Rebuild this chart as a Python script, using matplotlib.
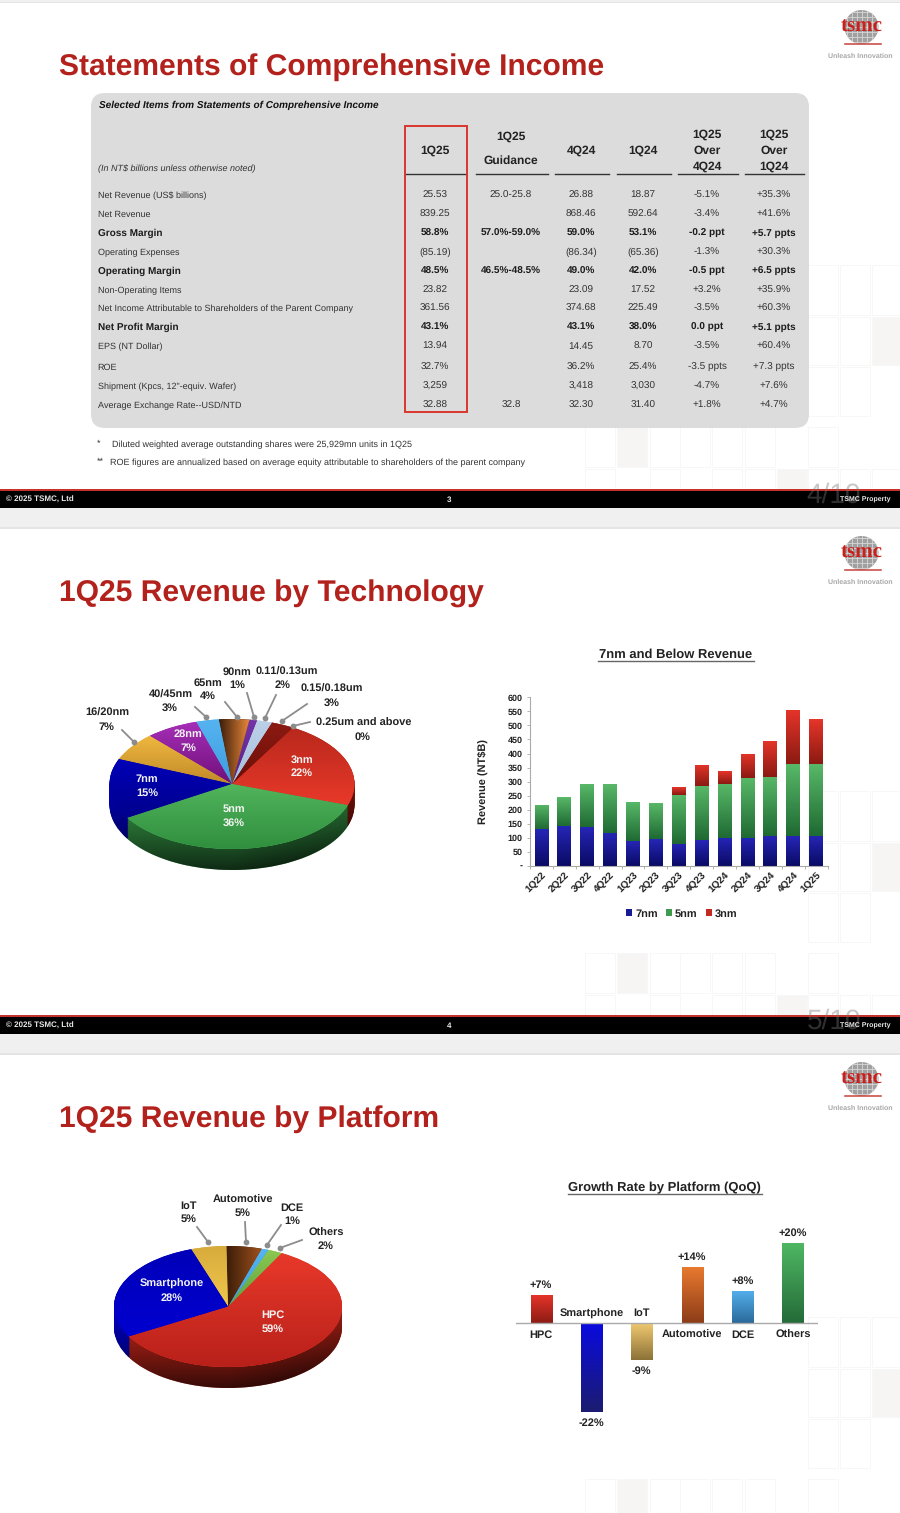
import numpy as np
import matplotlib
matplotlib.use("Agg")
import matplotlib.pyplot as plt
from matplotlib.colors import LinearSegmentedColormap
from matplotlib.patches import Rectangle, FancyBboxPatch, Circle, Polygon

plt.rcParams['font.family'] = ['Liberation Sans', 'DejaVu Sans']
plt.rcParams['text.hinting'] = 'no_hinting'
plt.rcParams['text.hinting_factor'] = 1

# ---------- data ----------
rows = ["Net Revenue (US$ billions)", "Net Revenue", "Gross Margin", "Operating Expenses", "Operating Margin",
        "Non-Operating Items", "Net Income Attributable to Shareholders of the Parent Company", "Net Profit Margin",
        "EPS (NT Dollar)", "ROE", "Shipment (Kpcs, 12\"-equiv. Wafer)", "Average Exchange Rate--USD/NTD"]
bold_rows = [2, 4, 7]
col_1q25 = ["25.53", "839.25", "58.8%", "(85.19)", "48.5%", "23.82", "361.56", "43.1%", "13.94", "32.7%", "3,259", "32.88"]
col_guid = ["25.0-25.8", "", "57.0%-59.0%", "", "46.5%-48.5%", "", "", "", "", "", "", "32.8"]
col_4q24 = ["26.88", "868.46", "59.0%", "(86.34)", "49.0%", "23.09", "374.68", "43.1%", "14.45", "36.2%", "3,418", "32.30"]
col_1q24 = ["18.87", "592.64", "53.1%", "(65.36)", "42.0%", "17.52", "225.49", "38.0%", "8.70", "25.4%", "3,030", "31.40"]
col_qoq = ["-5.1%", "-3.4%", "-0.2 ppt", "-1.3%", "-0.5 ppt", "+3.2%", "-3.5%", "0.0 ppt", "-3.5%", "-3.5 ppts", "-4.7%", "+1.8%"]
col_yoy = ["+35.3%", "+41.6%", "+5.7 ppts", "+30.3%", "+6.5 ppts", "+35.9%", "+60.3%", "+5.1 ppts", "+60.4%", "+7.3 ppts", "+7.6%", "+4.7%"]

tech_labels = ["3nm", "0.25um and above", "0.15/0.18um", "0.11/0.13um", "90nm", "65nm", "40/45nm", "28nm", "16/20nm", "7nm", "5nm"]
tech_share = [22, 0, 3, 2, 1, 4, 3, 7, 7, 15, 36]

quarters = ["1Q22", "2Q22", "3Q22", "4Q22", "1Q23", "2Q23", "3Q23", "4Q23", "1Q24", "2Q24", "3Q24", "4Q24", "1Q25"]
rev_7nm = [130, 143, 140, 117, 90, 96, 80, 92, 100, 100, 108, 105, 108]
rev_5nm = [87, 101, 151, 174, 138, 128, 173, 191, 191, 212, 207, 256, 254]
rev_3nm = [0, 0, 0, 0, 0, 0, 27, 77, 46, 88, 130, 193, 160]

plat_labels = ["HPC", "Others", "DCE", "Automotive", "IoT", "Smartphone"]
plat_share = [59, 2, 1, 5, 5, 28]

growth_labels = ["HPC", "Smartphone", "IoT", "Automotive", "DCE", "Others"]
growth_values = [7, -22, -9, 14, 8, 20]

# ---------- styles ----------
W, H = 900, 1513
DARK = '#1c1c1c'
TXT = '#333333'
RED = '#b3211c'
tech_colors = [('#b8281c', '#e8392a', '#8a150c'), ('#8c1a12', '#6a1008', '#500a06'), ('#8c1a12', '#6a1008', '#500a06'),
               ('#bcd0e8', '#a8c0dc', '#7e93ad'), ('#7434a8', '#5a2088', '#341050'), ('#3a1c08', '#ec8a3c', '#5a2a0c'),
               ('#55b4f0', '#3f9ce0', '#2a6a9a'), ('#a62fb8', '#70107a', '#4a0a50'), ('#f0b840', '#c08a28', '#8a6420'),
               ('#0000b8', '#00008c', '#0000b0'), ('#52b45c', '#2f8f3e', '#379a48')]
plat_colors = [('#e8392a', '#b8201a', '#c4261a'), ('#8cc850', '#5aa040', '#4a7a30'), ('#55b4f0', '#3f9ce0', '#2a6a9a'),
               ('#3a1c08', '#a0521c', '#5a2a0c'), ('#d8ab3c', '#f0c84c', '#8a6a20'), ('#0000b8', '#0000d0', '#0000c0')]

fig = plt.figure(figsize=(W / 100, H / 100), dpi=100, facecolor='white')


def px_axes(x0, y0, x1, y1, **kw):
    """Axes placed by pixel rectangle (y downwards)."""
    return fig.add_axes([x0 / W, 1 - y1 / H, (x1 - x0) / W, (y1 - y0) / H], **kw)


def gradient(ax, patch, c0, c1, extent, horizontal=False):
    cmap = LinearSegmentedColormap.from_list('g', [c0, c1])
    arr = np.linspace(0, 1, 128)
    arr = arr.reshape(1, -1) if horizontal else arr.reshape(-1, 1)
    im = ax.imshow(arr, extent=extent, origin='upper', aspect='auto', cmap=cmap, vmin=0, vmax=1,
                   zorder=patch.get_zorder() + 0.1, interpolation='bilinear')
    im.set_clip_path(patch)


def bar_gradient(ax, bars, c0, c1):
    for b in bars:
        if b.get_height() == 0:
            continue
        x0, x1 = b.get_x(), b.get_x() + b.get_width()
        y0, y1 = sorted((b.get_y(), b.get_y() + b.get_height()))
        gradient(ax, b, c0, c1, (x0, x1, y0, y1))


def pie3d(rect, values, colors, start, depth_px):
    cx, cy, a, b = rect
    ax = px_axes(cx - 1.5 * a, cy - 1.5 * b, cx + 1.5 * a, cy + 1.5 * b + depth_px, facecolor='none')
    d = depth_px / b
    ax.set_autoscale_on(False)
    n = 26
    for k in range(n, 0, -1):
        ax.pie(values, radius=1, center=(0, -d * k / n), colors=[c[2] for c in colors], startangle=start,
               wedgeprops=dict(linewidth=0.3, edgecolor='none'), normalize=True, frame=True)
    ts = np.linspace(np.pi, 2 * np.pi, 200)
    poly = np.r_[np.c_[np.cos(ts), np.sin(ts) - d], np.c_[np.cos(ts[::-1]), np.sin(ts[::-1])]]
    side = Polygon(poly, closed=True, facecolor='none', edgecolor='none', zorder=5)
    ax.add_patch(side)
    yy = np.linspace(0, 1, 64)[:, None]
    xx = np.linspace(-1, 1, 128)[None, :]
    alpha = np.clip(0.0 + 0.72 * yy ** 1.2 + 0.22 * np.clip(xx, 0, 1), 0, 0.88)
    rgba = np.zeros(alpha.shape + (4,))
    rgba[..., 3] = alpha
    im = ax.imshow(rgba, extent=(-1, 1, -1 - d, 0), origin='upper', aspect='auto', zorder=5.1)
    im.set_clip_path(side)
    wedges, _ = ax.pie(values, radius=1, colors=[c[0] for c in colors], startangle=start,
                       wedgeprops=dict(linewidth=0, zorder=6), normalize=True, frame=True)
    for w, c in zip(wedges, colors):
        if w.theta2 - w.theta1 < 0.01:
            continue
        t = np.radians(np.linspace(w.theta1, w.theta2, 90))
        xs = np.r_[0, np.cos(t)]
        ys = np.r_[0, np.sin(t)]
        horiz = c[0] == '#3a1c08'
        gradient(ax, w, c[0], c[1], (xs.min(), xs.max(), ys.min(), ys.max()), horizontal=horiz)
    ax.set_aspect('auto')
    ax.set_xlim(-1.5, 1.5)
    ax.set_ylim(-1.5 - d, 1.5)
    ax.axis('off')
    return ax


# ---------- background layer ----------
bg = px_axes(0, 0, W, H, zorder=0)
bg.set_xlim(0, W)
bg.set_ylim(H, 0)
bg.axis('off')

tile_xs = [585, 617, 650, 680, 712, 745, 777, 808, 840, 872]
tile_rows = [(265, 315), (317, 365), (367, 416), (427, 467), (469, 489)]
shaded = {(1, 3), (6, 4), (9, 1)}
outlined = {(7, 2), (8, 2), (7, 1), (8, 1), (7, 0), (8, 0), (9, 0), (3, 3), (4, 3), (5, 3), (7, 3), (2, 3), (0, 3),
            (0, 4), (2, 4), (4, 4), (5, 4), (7, 4), (8, 4), (9, 4)}
for off in (0, 526, 1052):
    for (ci, ri) in outlined | shaded:
        x0 = tile_xs[ci]
        y0, y1 = tile_rows[ri]
        if ci < 7 and ri < 3:
            continue
        fc = '#f7f5f4' if (ci, ri) in shaded else '#ffffff'
        bg.add_patch(Rectangle((x0, y0 + off), 30, y1 - y0, fc=fc, ec='#f7f7f7', lw=0.7, zorder=0.5))

# grey gaps between the slides
for y0, y1 in [(0, 2.5), (508, 527.5), (1034, 1053.5)]:
    bg.add_patch(Rectangle((0, y0), W, y1 - y0, fc='#f0f0f0', ec='none', zorder=1))
for y0, y1 in [(527, 528.5), (1053, 1054.5), (2.3, 3.3)]:
    bg.add_patch(Rectangle((0, y0), W, y1 - y0, fc='#e4e4e4', ec='none', zorder=1))

# footers
for off, page, ghost in [(0, '3', '4/10'), (526, '4', '5/10')]:
    bg.add_patch(Rectangle((0, 488.5 + off), W, 3, fc='#c4322a', ec='none', zorder=2))
    bg.add_patch(Rectangle((0, 491 + off), W, 17, fc='black', ec='none', zorder=2))
    bg.text(6, 500 + off, '© 2025 TSMC, Ltd', color='#e8e8e8', fontsize=5.9, fontweight='bold', va='center', zorder=3.2)
    bg.text(449.5, 499.5 + off, page, color='#e8e8e8', fontsize=6, fontweight='bold', ha='center', va='center', zorder=3.2)
    bg.text(891, 500 + off, 'TSMC Property', color='#e8e8e8', fontsize=5.1, fontweight='bold', ha='right', va='center', zorder=3.2)
    bg.text(834, 495 + off, ghost, color='#777777', alpha=0.4, fontsize=20, ha='center', va='center', zorder=3)

# logos
for off in (0, 526, 1052):
    logo = Circle((861.5, 27 + off), 17, fc='#a0a0a0', ec='none', zorder=2)
    bg.add_patch(logo)
    for dx in np.arange(-15, 16, 5):
        bg.plot([861.5 + dx] * 2, [10 + off, 44 + off], color='#d8d8d8', lw=0.6, zorder=2.1, clip_path=logo)
    for dy in np.arange(-15, 16, 5):
        bg.plot([844, 879], [27 + off + dy] * 2, color='#d8d8d8', lw=0.6, zorder=2.1, clip_path=logo)
    bg.text(861.5, 26.5 + off, 'tsmc', color='#c8201c', fontsize=15, fontweight='bold', family='Liberation Serif',
            ha='center', va='center', zorder=3)
    bg.plot([845, 881], [44 + off] * 2, color='#c8403a', lw=1.1, zorder=3)
    bg.text(860.5, 56.5 + off, 'Unleash Innovation', color='#a8a8a8', fontsize=5.2, fontweight='bold', ha='center',
            va='center', zorder=3)

# titles
for y, t in [(65, 'Statements of Comprehensive Income'), (591, '1Q25 Revenue by Technology'), (1117, '1Q25 Revenue by Platform')]:
    bg.text(59, y + 2.5, t, color=RED, fontsize=21.6, fontweight='bold', va='center', zorder=3)

# table
bg.add_patch(FancyBboxPatch((101, 103), 698, 315, boxstyle='round,pad=10,rounding_size=14', fc='#dcdcdc', ec='none', zorder=2))
bg.text(99, 105.5, 'Selected Items from Statements of Comprehensive Income', color='#111111', fontsize=7.1,
        fontstyle='italic', fontweight='bold', va='center', zorder=3)
bg.text(98, 168.5, '(In NT$ billions unless otherwise noted)', color=TXT, fontsize=6.7, fontstyle='italic', va='center', zorder=3)

col_x = [435, 511, 581, 643, 707, 774]
row_y = [195, 214, 233, 252, 271, 290, 308, 327, 346, 367, 386, 405]
headers = [[(150, '1Q25')], [(136, '1Q25'), (160, 'Guidance')], [(150, '4Q24')], [(150, '1Q24')],
           [(134, '1Q25'), (150, 'Over'), (166, '4Q24')], [(134, '1Q25'), (150, 'Over'), (166, '1Q24')]]
for x, hdr in zip(col_x, headers):
    for y, s in hdr:
        bg.text(x, y + 0.8, s, color='#222222', fontsize=8.6, fontweight='bold', ha='center', va='center', zorder=3)
for x0, x1 in [(406, 466), (475.5, 548), (554.5, 609), (616.5, 671), (677.5, 738), (745, 804)]:
    bg.plot([x0, x1], [174, 174], color='#333333', lw=1.0, zorder=3)
columns = [col_1q25, col_guid, col_4q24, col_1q24, col_qoq, col_yoy]
for i, (lab, y) in enumerate(zip(rows, row_y)):
    isb = i in bold_rows
    w = 'bold' if isb else 'normal'
    bg.text(97.5, y + 0.5, lab, color=DARK if isb else TXT, fontsize=6.9 if isb else 6.7, fontweight=w, va='center', zorder=3)
    for x, col in zip(col_x, columns):
        if col[i]:
            bg.text(x, y + 0.5, col[i], color=DARK if isb else TXT, fontsize=7.1, fontweight=w, ha='center', va='center', zorder=3)
bg.add_patch(Rectangle((405, 126), 62, 285.5, fc='none', ec='#d8352c', lw=1.4, zorder=3.5))
bg.text(97, 444, '*', color=TXT, fontsize=6.7, va='center', zorder=3)
bg.text(111.5, 445, 'Diluted weighted average outstanding shares were 25,929mn units in 1Q25', color=TXT, fontsize=6.7, va='center', zorder=3)
bg.text(97, 462, '**', color=TXT, fontsize=6.7, va='center', zorder=3)
bg.text(110, 463, 'ROE figures are annualized based on average equity attributable to shareholders of the parent company', color=TXT, fontsize=6.7, va='center', zorder=3)

# chart titles
for x, y, s, x0, x1 in [(675.5, 654, '7nm and Below Revenue', 598, 753.5), (664.5, 1187, 'Growth Rate by Platform (QoQ)', 567.5, 762)]:
    bg.text(x, y + 1, s, color='#222222', fontsize=9.5, fontweight='bold', ha='center', va='center', zorder=3)
    bg.plot([x0, x1], [y + 7, y + 7], color='#666666', lw=1.0, zorder=3)

# ---------- charts ----------
pie3d((232, 784, 122.5, 65), tech_share, tech_colors, -19, 21)
pie3d((228, 1306.5, 114, 60.5), plat_share, plat_colors, -150.4, 21)

# stacked bars
ax = px_axes(530, 697.3, 827.5, 866, facecolor='none', zorder=1)
ax.set_autoscale_on(False)
xpos = np.arange(len(quarters))
v7, v5, v3 = map(np.array, (rev_7nm, rev_5nm, rev_3nm))
b7 = ax.bar(xpos, v7, width=0.6, color='#1a1a96', linewidth=0, label='7nm')
b5 = ax.bar(xpos, v5, width=0.6, bottom=v7, color='#3f9a50', linewidth=0, label='5nm')
b3 = ax.bar(xpos, v3, width=0.6, bottom=v7 + v5, color='#c42a20', linewidth=0, label='3nm')
bar_gradient(ax, b7, '#2626b8', '#0a0a64')
bar_gradient(ax, b5, '#58b868', '#1f6a33')
bar_gradient(ax, b3, '#e6352a', '#8a1a12')
ax.set_xlim(-0.5, len(quarters) - 0.5)
ax.set_ylim(0, 600)
yt = np.arange(0, 601, 50)
ax.set_yticks(yt)
ax.set_yticklabels(['-'] + [str(v) for v in yt[1:]], fontsize=6.6, fontweight='bold', color='#222222')
ax.set_xticks(xpos)
ax.set_xticks(np.arange(-0.5, len(quarters)), minor=True)
ax.set_xticklabels(quarters, rotation=45, fontsize=7, fontweight='bold', color='#222222', ha='right',
                   rotation_mode='anchor')
ax.tick_params(axis='x', which='major', length=0, pad=3)
ax.tick_params(axis='x', which='minor', length=2.5, color='#aaaaaa', width=0.6)
ax.tick_params(axis='y', length=2.5, color='#aaaaaa', width=0.6, pad=3)
for s in ('top', 'right'):
    ax.spines[s].set_visible(False)
for s in ('left', 'bottom'):
    ax.spines[s].set_color('#aaaaaa')
    ax.spines[s].set_linewidth(0.8)
ax.set_ylabel('Revenue (NT$B)', fontsize=8.2, fontweight='bold', color='#222222', labelpad=14)
ax.legend(handles=[b7, b5, b3], ncol=3, frameon=False, loc='center', bbox_to_anchor=(0.51, -0.283),
          prop=dict(size=7.8, weight='bold'), handlelength=0.55, handleheight=0.55, handletextpad=0.3,
          columnspacing=0.75, labelcolor='#222222')

# growth bars
ax2 = px_axes(516, 1223, 818, 1433, facecolor='none', zorder=1)
ax2.set_autoscale_on(False)
gx = np.arange(len(growth_values))
gb = ax2.bar(gx, growth_values, width=0.42, color='#888888', linewidth=0)
g_cols = [('#e8342a', '#8c1c14'), ('#0a0ae0', '#1c1c70'), ('#f0c870', '#8c7238'), ('#ea7a2f', '#8c3c18'),
          ('#55b0ee', '#2a6a9a'), ('#4fb864', '#246b38')]
for b, (c0, c1) in zip(gb, g_cols):
    bar_gradient(ax2, [b], c0, c1)
ax2.set_xlim(-0.5, 5.5)
ax2.set_ylim(-27.3, 25)
ax2.axhline(0, color='#aaaaaa', lw=1.0, zorder=5)
ax2.axis('off')
for x, v, lab in zip(gx, growth_values, growth_labels):
    pos = v > 0
    ax2.annotate(f'{v:+d}%', (x, v), xytext=(0, 7.4 if pos else -8.4), textcoords='offset points', ha='center', va='center',
                 fontsize=8, fontweight='bold', color='#222222')
    ax2.annotate(lab, (x, 0), xytext=(0, -8.2 if pos else 7.2), textcoords='offset points', ha='center', va='center',
                 fontsize=8, fontweight='bold', color='#222222')

# ---------- annotation layer ----------
fg = px_axes(0, 0, W, H, zorder=5, facecolor='none')
fg.set_xlim(0, W)
fg.set_ylim(H, 0)
fg.axis('off')

leaders = [((122, 730), (134, 742)), ((195, 707), (206, 717)), ((225, 702), (237, 717)), ((247, 693), (254, 717)),
           ((276, 695), (265, 718)), ((307, 704), (282, 721)), ((310, 722), (293, 726)),
           ((197, 1227), (208, 1242)), ((245, 1222), (246, 1242)), ((281, 1225), (267, 1245)), ((302, 1240), (280, 1248))]
for (x0, y0), (x1, y1) in leaders:
    fg.plot([x0, x1], [y0, y1], color='#8c8c8c', lw=1.3)
    fg.plot([x1], [y1], 'o', color='#8c8c8c', ms=4.2, mew=0)

dark_labels = [(107, 712, '16/20nm'), (106, 726, '7%'), (171, 694, '40/45nm'), (170, 707, '3%'), (208, 682, '65nm'), (208, 695, '4%'),
               (237, 671, '90nm'), (237, 684, '1%'), (287, 671, '0.11/0.13um'), (283, 684, '2%'), (332, 688, '0.15/0.18um'), (332, 702, '3%'),
               (364, 722, '0.25um and above'), (363, 736, '0%'),
               (189, 1205, 'IoT'), (189, 1218, '5%'), (243, 1199, 'Automotive'), (243, 1212, '5%'), (292, 1207, 'DCE'), (292, 1220, '1%'),
               (326, 1232, 'Others'), (326, 1245, '2%')]
light_labels = [(188, 733, '28nm'), (188, 747, '7%'), (302, 759, '3nm'), (302, 772, '22%'), (147, 778, '7nm'), (147, 792, '15%'),
                (234, 808, '5nm'), (234, 822, '36%'), (172, 1283, 'Smartphone'), (172, 1297, '28%'), (273, 1314, 'HPC'), (273, 1328, '59%')]
for x, y, s in dark_labels:
    fg.text(x, y + 0.8, s, color='#222222', fontsize=8, fontweight='bold', ha='center', va='center')
for x, y, s in light_labels:
    fg.text(x, y + 0.8, s, color='#f4f4f4', fontsize=8, fontweight='bold', ha='center', va='center')

fig.savefig('out.png', dpi=100)
